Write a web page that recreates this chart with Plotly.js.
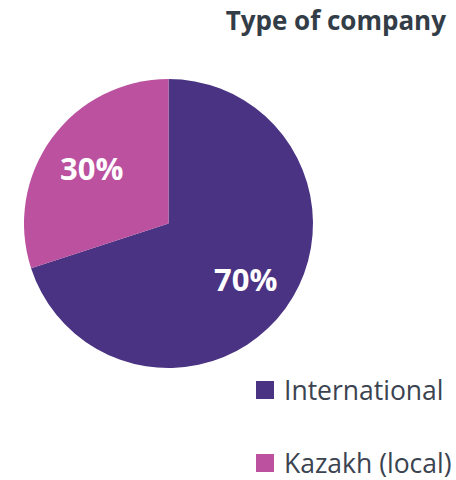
<!DOCTYPE html>
<html>
<head>
<meta charset="utf-8">
<script src="https://cdn.plot.ly/plotly-3.0.1.min.js"></script>
<style>html,body{margin:0;padding:0;background:#fff;}#chart{width:456px;height:480px;}</style>
</head>
<body>
<div id="chart"></div>
<script>
const labels = ["International", "Kazakh (local)"];
const values = [70, 30];
const colors = ["#4B3384", "#BB519F"];
const chartTitle = "Type of company";

const W = 456, H = 480;
const FONT = '"Open Sans", sans-serif';
const legendX = 282 / W;
const legendY = [1 - 390 / H, 1 - 463 / H];
const sq = 18;

// pie geometry (paper domain)
const dom = {x: [24 / W, 313 / W], y: [1 - 368 / H, 1 - 79 / H]};
const cx = (dom.x[0] + dom.x[1]) / 2 * W;
const cy = (dom.y[0] + dom.y[1]) / 2 * H;
const R = (dom.x[1] - dom.x[0]) * W / 2;
const labelR = 0.657 * R;

const total = values.reduce((a, b) => a + b, 0);
let cum = 0;
const pctAnnotations = values.map((v) => {
  const mid = (cum + v / 2) / total * 2 * Math.PI; // clockwise from top
  cum += v;
  return {
    xref: 'paper', yref: 'paper',
    x: (cx + labelR * Math.sin(mid)) / W, y: (cy + labelR * Math.cos(mid)) / H,
    xanchor: 'center', yanchor: 'middle', showarrow: false,
    text: Math.round(v / total * 100) + '%',
    font: {family: FONT, size: 31, color: '#ffffff', weight: 'bold'}
  };
});

const legendAnnotations = labels.map((l, i) => ({
  xref: 'paper', yref: 'paper', x: legendX, y: legendY[i],
  xanchor: 'left', yanchor: 'middle', showarrow: false, text: l,
  font: {family: FONT, size: 26.5, color: '#3B4350'}
}));
const shapes = labels.map((l, i) => ({
  type: 'rect', xref: 'paper', yref: 'paper',
  x0: 256 / W, x1: (256 + sq) / W,
  y0: legendY[i] - sq / 2 / H, y1: legendY[i] + sq / 2 / H,
  fillcolor: colors[i], line: {width: 0}
}));

const data = [{
  type: 'pie', labels: labels, values: values, sort: false,
  direction: 'clockwise', rotation: 0,
  marker: {colors: colors, line: {width: 0}},
  textinfo: 'none',
  hoverinfo: 'none', showlegend: false,
  domain: dom
}];

const layout = {
  width: W, height: H, margin: {l: 0, r: 0, t: 0, b: 0},
  paper_bgcolor: '#fff',
  title: {text: chartTitle, x: 446 / W, xanchor: 'right', y: 1 - 21 / H, yanchor: 'middle',
    font: {family: FONT, size: 26, color: '#333D47', weight: 'bold'}},
  annotations: pctAnnotations.concat(legendAnnotations), shapes: shapes, showlegend: false
};
Plotly.newPlot('chart', data, layout, {displayModeBar: false, staticPlot: true});
</script>
</body>
</html>
